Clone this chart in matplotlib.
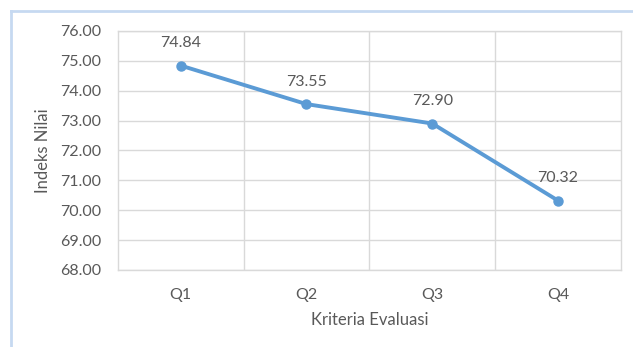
import matplotlib.pyplot as plt
from matplotlib.lines import Line2D

# data
categories = ['Q1', 'Q2', 'Q3', 'Q4']
values = [74.84, 73.55, 72.90, 70.32]
y_ticks = [68, 69, 70, 71, 72, 73, 74, 75, 76]

text_color = '#595959'
grid_color = '#d9d9d9'
line_color = '#5b9bd5'

plt.rcParams['font.family'] = ['Lato', 'DejaVu Sans']

fig = plt.figure(figsize=(6.33, 3.47), dpi=100)
ax = fig.add_axes([0.186, 0.222, 0.795, 0.689])

x = list(range(len(categories)))
ax.plot(x, values, color=line_color, linewidth=2.8, marker='o', markersize=6.5, zorder=3)

# data labels above points
for xi, v in zip(x, values):
    ax.annotate(f'{v:.2f}', (xi, v), xytext=(0, 11), textcoords='offset points',
                ha='center', va='bottom', fontsize=11.5, color=text_color)

ax.set_xlim(-0.5, len(categories) - 0.5)
ax.set_ylim(68, 76)
ax.set_yticks(y_ticks)
ax.set_yticklabels([f'{t:.2f}' for t in y_ticks])
ax.set_xticks(x)
ax.set_xticklabels(categories)
ax.set_xticks([i + 0.5 for i in range(len(categories) - 1)], minor=True)

ax.grid(axis='y', color=grid_color, linewidth=1)
ax.grid(axis='x', which='minor', color=grid_color, linewidth=1)
ax.tick_params(which='both', length=0, colors=text_color, labelsize=11.5)
ax.tick_params(axis='x', pad=13)
ax.tick_params(axis='y', pad=12)
for s in ax.spines.values():
    s.set_color(grid_color)
    s.set_linewidth(1)

ax.set_xlabel('Kriteria Evaluasi', fontsize=12, color=text_color, labelpad=7)
ax.set_ylabel('Indeks Nilai', fontsize=12, color=text_color, labelpad=6)

# light blue chart frame (partly cropped)
fig.add_artist(Line2D([11 / 633, 11 / 633], [0, 1 - 11 / 347], color='#c6d9f1', linewidth=2))
fig.add_artist(Line2D([11 / 633, 1], [1 - 11 / 347, 1 - 11 / 347], color='#c6d9f1', linewidth=2))

fig.savefig('out.png', dpi=100, facecolor='white')
